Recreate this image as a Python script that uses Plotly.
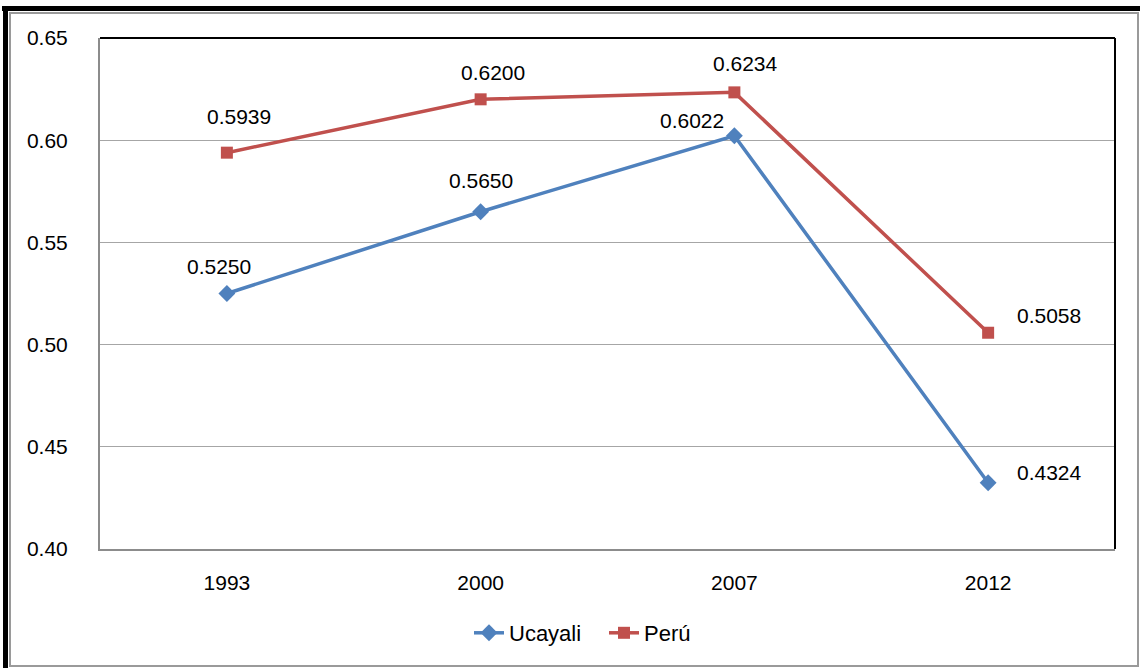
import plotly.graph_objects as go

years = ["1993", "2000", "2007", "2012"]
ucayali = [0.5250, 0.5650, 0.6022, 0.4324]
peru = [0.5939, 0.6200, 0.6234, 0.5058]

blue = "#4F81BD"
red = "#C0504D"
FONT = "Liberation Sans, Arial"
FS = 21

fig = go.Figure()
fig.add_trace(go.Scatter(x=years, y=ucayali, name="Ucayali", mode="lines+markers",
                         line=dict(color=blue, width=3.5),
                         marker=dict(symbol="diamond", size=13, color=blue)))
fig.add_trace(go.Scatter(x=years, y=peru, name="Perú", mode="lines+markers",
                         line=dict(color=red, width=3.5),
                         marker=dict(symbol="square", size=12, color=red)))

# label offsets (px): style only
u_off = [(-8, 27), (0, 31), (-42, 15), (61, 10)]
p_off = [(12, 36), (12, 27), (11, 29), (61, 17)]
for i in range(len(years)):
    fig.add_annotation(x=i, y=ucayali[i], text=f"{ucayali[i]:.4f}", showarrow=False,
                       xshift=u_off[i][0], yshift=u_off[i][1],
                       font=dict(family=FONT, size=FS, color="black"))
    fig.add_annotation(x=i, y=peru[i], text=f"{peru[i]:.4f}", showarrow=False,
                       xshift=p_off[i][0], yshift=p_off[i][1],
                       font=dict(family=FONT, size=FS, color="black"))

L, R, T, B = 100, 1115, 38, 549
W, H = 1140, 668
def px(x):
    return (x - L) / (R - L)
def py(y):
    return (B - y) / (B - T)

shapes = [
    dict(type="rect", xref="paper", yref="paper", x0=px(10), x1=px(1138), y0=py(666), y1=py(13),
         line=dict(color="#9A9A9A", width=2)),
    dict(type="line", xref="paper", yref="paper", x0=px(2), x1=px(1140), y0=py(8.5), y1=py(8.5),
         line=dict(color="black", width=5)),
    dict(type="line", xref="paper", yref="paper", x0=px(5.5), x1=px(5.5), y0=py(668), y1=py(6),
         line=dict(color="black", width=5)),
    dict(type="line", xref="paper", yref="paper", x0=0, x1=1, y0=1, y1=1,
         line=dict(color="black", width=2)),
    dict(type="line", xref="paper", yref="paper", x0=1, x1=1, y0=0, y1=1,
         line=dict(color="black", width=2)),
]

fig.update_layout(
    width=W, height=H,
    margin=dict(l=L, r=W - R, t=T, b=H - B),
    paper_bgcolor="white", plot_bgcolor="white",
    font=dict(family=FONT, size=FS, color="black"),
    showlegend=True,
    legend=dict(orientation="h", x=px(469), xanchor="left", y=py(633), yanchor="middle",
                font=dict(family=FONT, size=FS + 1), entrywidth=90, entrywidthmode="pixels",
                tracegroupgap=0),
    shapes=shapes,
    xaxis=dict(type="category", range=[-0.5, 3.5], showgrid=False, showline=True,
               linecolor="#8C8C8C", linewidth=2, ticks="", ticklabelstandoff=14,
               tickfont=dict(family=FONT, size=FS), zeroline=False),
    yaxis=dict(range=[0.40, 0.65], dtick=0.05, tickformat=".2f", showgrid=True,
               gridcolor="#A6A6A6", gridwidth=1.3, showline=True, linecolor="#8C8C8C", linewidth=2,
               ticks="", ticklabelstandoff=26, tickfont=dict(family=FONT, size=FS), zeroline=False),
)

fig.write_html("out.html", config={"displayModeBar": False},
               post_script="document.body.style.margin='0';")
